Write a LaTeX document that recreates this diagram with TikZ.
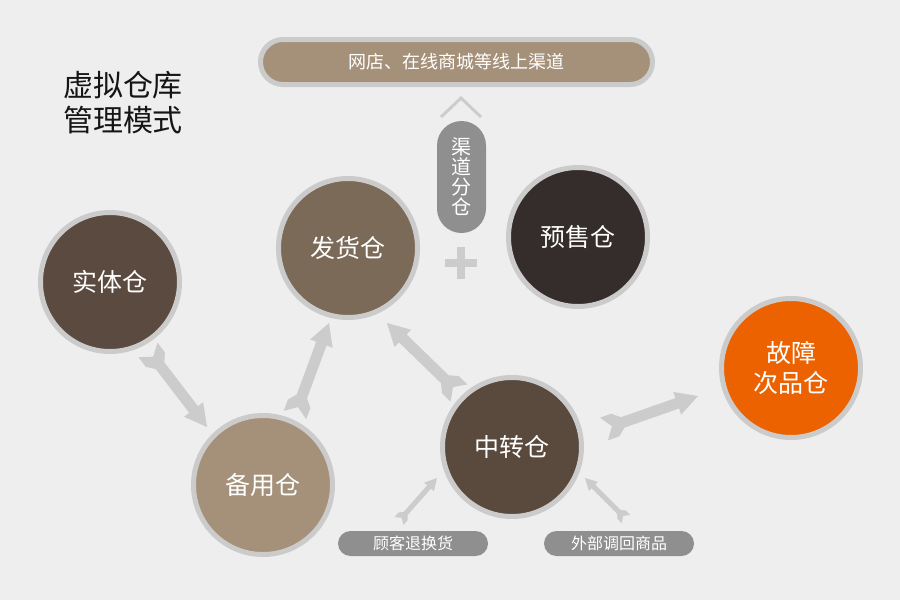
\documentclass[tikz,border=0pt]{standalone}
\usepackage{fontspec}
\setmainfont{Noto Sans CJK SC}
\usetikzlibrary{calc}
\definecolor{bg}{HTML}{EEEEEE}
\definecolor{ringgray}{HTML}{CBCBCB}
\definecolor{arrowgray}{HTML}{CCCCCC}
\definecolor{pillgray}{HTML}{8F8F8F}
\definecolor{cshiti}{HTML}{5B4A40}
\definecolor{cfahuo}{HTML}{7C6A58}
\definecolor{cyushou}{HTML}{352D2B}
\definecolor{cbeiyong}{HTML}{A59079}
\definecolor{czhongzhuan}{HTML}{5A4A3E}
\definecolor{cguzhang}{HTML}{EC6200}
\definecolor{ctitle}{HTML}{151515}
\begin{document}
\begin{tikzpicture}[x=1pt,y=-1pt,
  ring/.style={circle, draw=ringgray, line width=5pt, minimum size=139pt, inner sep=0pt,
    text=white, font=\fontsize{25}{30}\selectfont, align=center},
  farrow/.style n args={4}{fill=arrowgray, draw=none, to path={
    let \p1=(\tikztostart), \p2=(\tikztotarget),
        \n1={atan2(\y2-\y1,\x2-\x1)}, \n2={veclen(\x2-\x1,\y2-\y1)},
        \n3={\n2-#3pt}, \n4={1.0*#4}, \n5={#4+1.2*(#4-#1)}, \n6={0.7*#4} in
    ($(\p1)+(\n1:\n6pt)$)
    -- ($(\p1)+(\n1+90:#4pt)$)
    -- ($(\p1)+(\n1:\n4pt)+(\n1+90:#4pt)$)
    -- ($(\p1)+(\n1:\n5pt)+(\n1+90:#1pt)$)
    -- ($(\p1)+(\n1:\n3)+(\n1+90:#1pt)$)
    -- ($(\p1)+(\n1:\n3)+(\n1+90:#2pt)$)
    -- (\p2)
    -- ($(\p1)+(\n1:\n3)+(\n1-90:#2pt)$)
    -- ($(\p1)+(\n1:\n3)+(\n1-90:#1pt)$)
    -- ($(\p1)+(\n1:\n5pt)+(\n1-90:#1pt)$)
    -- ($(\p1)+(\n1:\n4pt)+(\n1-90:#4pt)$)
    -- ($(\p1)+(\n1-90:#4pt)$)
    -- cycle}},
  bigarrow/.style={farrow={5.5}{12}{22}{12}},
  smallarrow/.style={farrow={2.5}{6.5}{12}{6}},
  pill/.style={rectangle, fill=pillgray, inner sep=0pt, text=white},
]
\useasboundingbox (0,0) rectangle (900,600);
\fill[bg] (0,0) rectangle (900,600);

% title
\node[text=ctitle, font=\fontsize{30}{35}\selectfont, align=left] (title) at (123,102.5) {虚拟仓库\\管理模式};

% top channel pill
\node[rectangle, fill=cbeiyong, draw=ringgray, line width=5pt, minimum width=392pt, minimum height=45pt,
  rounded corners=22.5pt, inner sep=0pt, text=white, font=\fontsize{18}{20}\selectfont] (online) at (456.5,62) {网店、在线商城等线上渠道};

% chevron
\draw[arrowgray, line width=3pt] (441,117) -- (461,98) -- (481,117);

% vertical pill
\node[pill, minimum width=49pt, minimum height=112pt, rounded corners=24.5pt,
  font=\fontsize{20}{20}\selectfont, align=center] (fencang) at (461.5,177) {渠\\道\\分\\仓};

% plus
\fill[arrowgray] (445,259) rectangle (477,267);
\fill[arrowgray] (457,247) rectangle (465,279);

% circles
\node[ring, fill=cshiti] (shiti) at (110,282) {实体仓};
\node[ring, fill=cfahuo] (fahuo) at (348,248) {发货仓};
\node[ring, fill=cyushou] (yushou) at (578,237) {预售仓};
\node[ring, fill=cbeiyong] (beiyong) at (263,485) {备用仓};
\node[ring, fill=czhongzhuan] (zhongzhuan) at (512,447) {中转仓};
\node[ring, fill=cguzhang] (guzhang) at (791,368) {故障\\次品仓};

% bottom pills
\node[pill, minimum width=150pt, minimum height=25pt, rounded corners=12.5pt,
  font=\fontsize{16}{18}\selectfont] (tuihuan) at (413,543.5) {顾客退换货};
\node[pill, minimum width=150pt, minimum height=25pt, rounded corners=12.5pt,
  font=\fontsize{16}{18}\selectfont] (diaohui) at (619,543.5) {外部调回商品};

% arrow end points
\coordinate (a1s) at (148,350);
\coordinate (a1e) at (207,427);
\coordinate (a2s) at (295,415);
\coordinate (a2e) at (329,323);
\coordinate (a3s) at (459,393);
\coordinate (a3e) at (387,323);
\coordinate (a4s) at (604,429);
\coordinate (a4e) at (698,396);
\coordinate (a5s) at (399,521);
\coordinate (a5e) at (437,478);
\coordinate (a6s) at (626,519);
\coordinate (a6e) at (585,478);

\path[bigarrow] (a1s) to (a1e);
\path[bigarrow] (a2s) to (a2e);
\path[bigarrow] (a3s) to (a3e);
\path[bigarrow] (a4s) to (a4e);
\path[smallarrow] (a5s) to (a5e);
\path[smallarrow] (a6s) to (a6e);
\end{tikzpicture}
\end{document}
